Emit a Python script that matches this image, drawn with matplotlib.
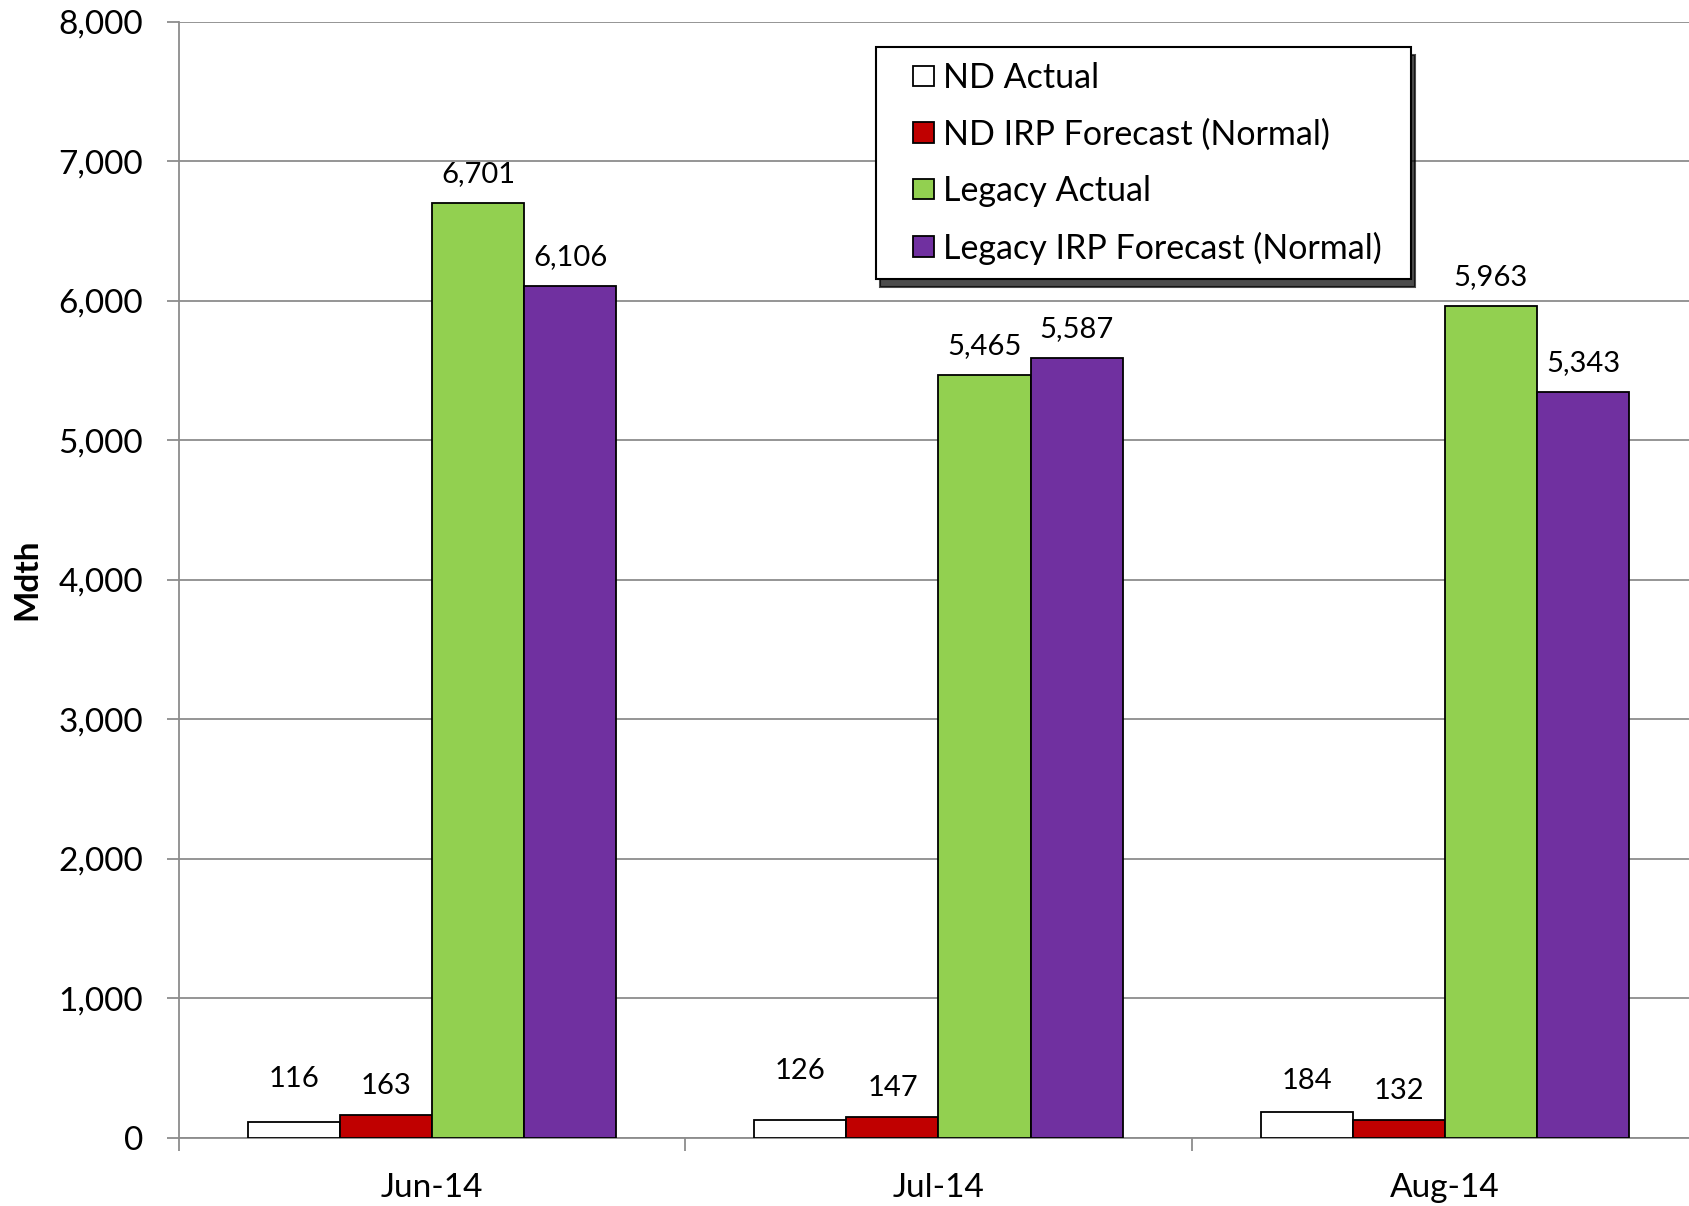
import matplotlib
matplotlib.use("Agg")
import matplotlib.pyplot as plt
from matplotlib.patches import Rectangle
from matplotlib.legend_handler import HandlerPatch
import numpy as np

categories = ["Jun-14", "Jul-14", "Aug-14"]
series_names = ["ND Actual", "ND IRP Forecast (Normal)", "Legacy Actual", "Legacy IRP Forecast (Normal)"]
nd_actual = [116, 126, 184]
nd_irp = [163, 147, 132]
legacy_actual = [6701, 5465, 5963]
legacy_irp = [6106, 5587, 5343]
yticks = [0, 1000, 2000, 3000, 4000, 5000, 6000, 7000, 8000]

colors = ["#FFFFFF", "#C00000", "#92D050", "#7030A0"]
# label offsets (pixels above bar top, to label center)
label_offsets = [[43, 49, 31], [29, 29, 29], [29, 29, 29], [29, 29, 29]]

plt.rcParams['font.family'] = ['Lato', 'DejaVu Sans']

W, H = 1689, 1206
fig = plt.figure(figsize=(W / 100, H / 100), dpi=100)
L, R, B, T = 179, 1698, 1138, 21.5
ax = fig.add_axes([L / W, 1 - B / H, (R - L) / W, (B - T) / H])

series = [nd_actual, nd_irp, legacy_actual, legacy_irp]
n = len(series)
bw = 1 / (n + 1.5)
x = np.arange(len(categories))
for i, (vals, c, name) in enumerate(zip(series, colors, series_names)):
    pos = x + (i - (n - 1) / 2) * bw
    ax.bar(pos, vals, width=bw, color=c, edgecolor="black", linewidth=1.3, label=name, zorder=3)
    for j, (p, v) in enumerate(zip(pos, vals)):
        ax.annotate(f"{v:,}", xy=(p, v), xytext=(0, label_offsets[i][j]), textcoords="offset pixels",
                    ha="center", va="center", fontsize=21, zorder=4)

ax.set_xlim(-0.5, 2.5)
ax.set_ylim(0, 8000)
ax.set_yticks(yticks)
ax.set_yticklabels([f"{t:,}" for t in yticks], fontsize=24)
ax.set_xticks(x)
ax.set_xticklabels(categories, fontsize=24)
ax.set_xticks([-0.5, 0.5, 1.5, 2.5], minor=True)
ax.tick_params(axis="x", which="major", length=0, pad=25)
ax.tick_params(axis="x", which="minor", length=9, width=1.3, color="#8c8c8c")
ax.tick_params(axis="y", length=9, width=1.3, color="#8c8c8c", pad=17)

ax.grid(axis="y", color="#8c8c8c", linewidth=1.3, zorder=0)
for s in ["top", "right"]:
    ax.spines[s].set_visible(False)
for s in ["left", "bottom"]:
    ax.spines[s].set_color("#8c8c8c")
    ax.spines[s].set_linewidth(1.3)

ax.set_ylabel("Mdth", fontsize=24, fontweight="bold", va="center")
ax.yaxis.set_label_coords((27 - L) / (R - L), 0.5)


def square_patch(legend, orig_handle, xdescent, ydescent, width, height, fontsize):
    s = 0.6 * fontsize
    return Rectangle((width - s - xdescent, -ydescent + (height - s) / 2), s, s)


handles = [Rectangle((0, 0), 1, 1, facecolor=c, edgecolor="black", linewidth=1.3) for c in colors]
lx0, lx1, ly0, ly1 = 876, 1411, 47, 276
leg = fig.legend(handles=handles, labels=series_names, loc="upper left",
                 bbox_to_anchor=(lx0 / W, 1 - ly1 / H, (lx1 - lx0) / W, (ly1 - ly0) / H),
                 bbox_transform=fig.transFigure, mode="expand",
                 borderaxespad=0, fontsize=24.5, frameon=True, fancybox=False,
                 edgecolor="black", handlelength=1.26, handleheight=0.7, handletextpad=0.29,
                 labelspacing=0.72, borderpad=0.43,
                 handler_map={Rectangle: HandlerPatch(patch_func=square_patch)},
                 shadow={"ox": 3, "oy": -6, "color": "black", "alpha": 0.7})
leg.get_frame().set_linewidth(1.5)

fig.savefig("out.png", dpi=100)
